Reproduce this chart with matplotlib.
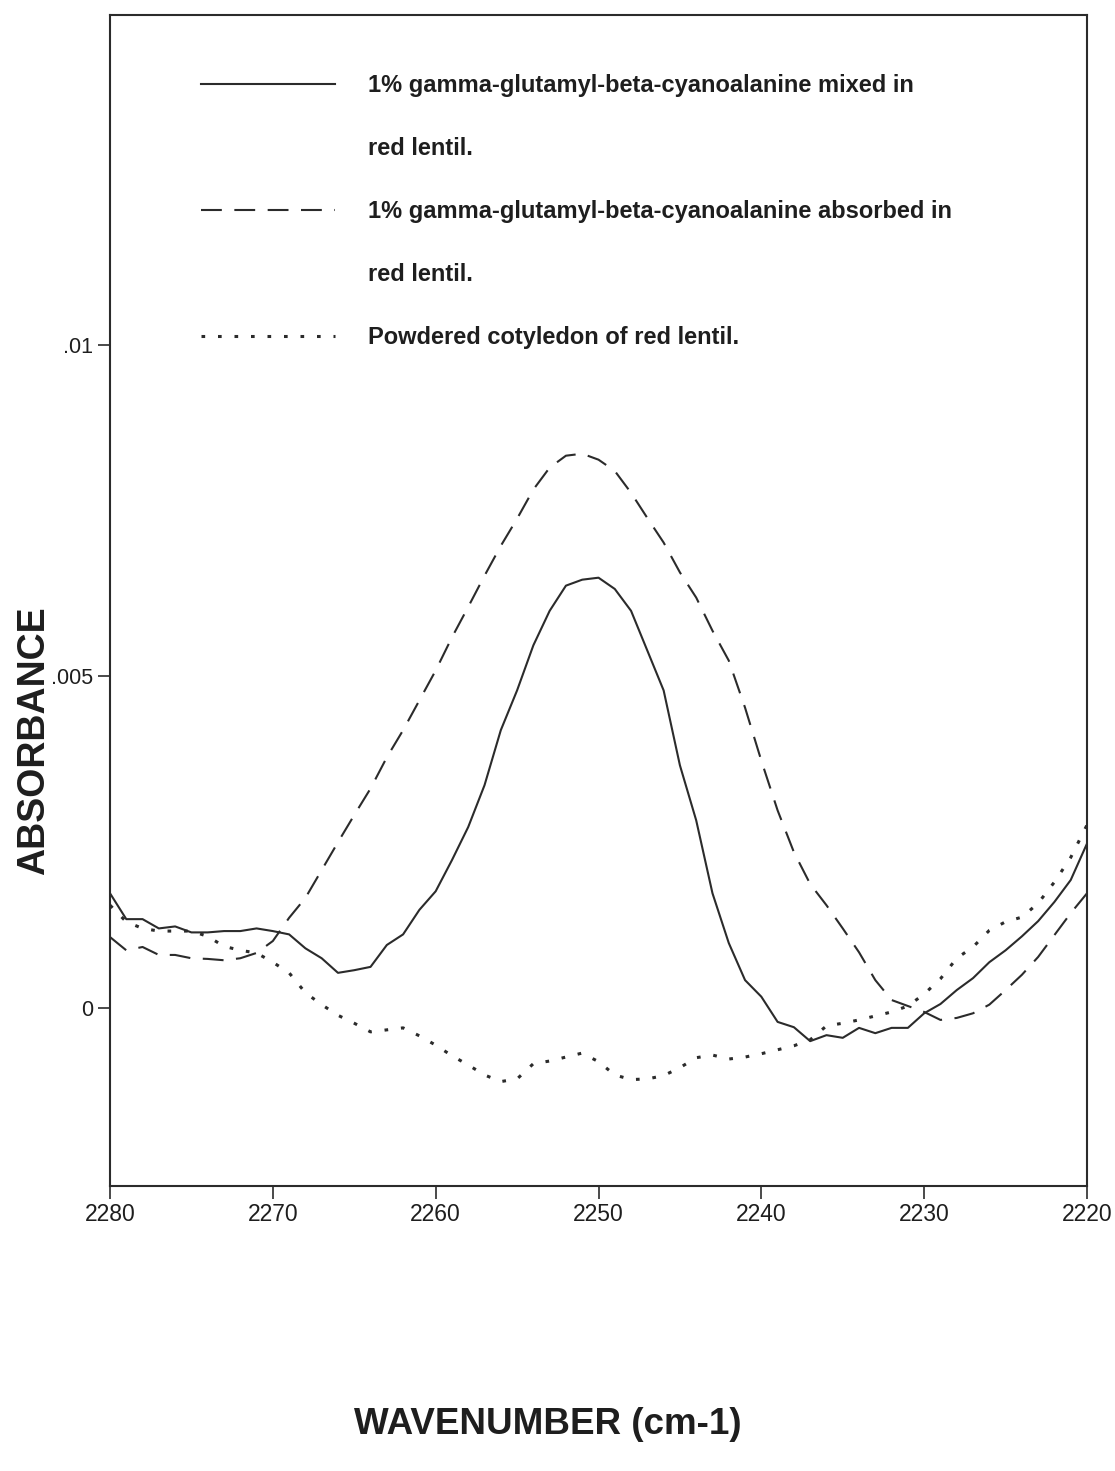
import numpy as np
import matplotlib
matplotlib.use("Agg")
import matplotlib.pyplot as plt
from matplotlib.lines import Line2D

plt.rcParams['font.family'] = ['Liberation Sans', 'DejaVu Sans']

# wavenumber grid (cm-1), 2280 down to 2220
wavenumber = np.arange(2280, 2219, -1)

# 1% gamma-glutamyl-beta-cyanoalanine mixed in red lentil
mixed = [0.00173, 0.00134, 0.00134, 0.00120, 0.00123, 0.00114, 0.00114, 0.00116,
         0.00116, 0.00120, 0.00116, 0.00111, 0.00090, 0.00075, 0.00053, 0.00057,
         0.00062, 0.00095, 0.00111, 0.00148, 0.00176, 0.00223, 0.00273, 0.00336,
         0.00419, 0.00479, 0.00547, 0.00599, 0.00637, 0.00646, 0.00649, 0.00632,
         0.00599, 0.00539, 0.00479, 0.00366, 0.00283, 0.00173, 0.00098, 0.00042,
         0.00017, -0.00021, -0.00029, -0.00050, -0.00041, -0.00045, -0.00030, -0.00038,
         -0.00030, -0.00030, -0.00008, 0.00006, 0.00027, 0.00045, 0.00069, 0.00087,
         0.00108, 0.00131, 0.00160, 0.00193, 0.00248]

# 1% gamma-glutamyl-beta-cyanoalanine absorbed in red lentil
absorbed = [0.00107, 0.00087, 0.00092, 0.00080, 0.00080, 0.00075, 0.00074, 0.00072,
            0.00075, 0.00083, 0.00101, 0.00136, 0.00166, 0.00208, 0.00250, 0.00291,
            0.00331, 0.00378, 0.00419, 0.00464, 0.00509, 0.00559, 0.00605, 0.00652,
            0.00697, 0.00738, 0.00782, 0.00815, 0.00833, 0.00836, 0.00827, 0.00810,
            0.00777, 0.00739, 0.00702, 0.00657, 0.00619, 0.00569, 0.00524, 0.00453,
            0.00373, 0.00298, 0.00235, 0.00187, 0.00155, 0.00120, 0.00084, 0.00042,
            0.00012, 0.00003, -0.00006, -0.00018, -0.00015, -0.00008, 0.00005, 0.00027,
            0.00050, 0.00077, 0.00110, 0.00143, 0.00173]

# powdered cotyledon of red lentil
powdered = [0.00155, 0.00130, 0.00120, 0.00116, 0.00116, 0.00116, 0.00108, 0.00093,
            0.00087, 0.00083, 0.00069, 0.00053, 0.00023, 0.00005, -0.00011, -0.00023,
            -0.00036, -0.00033, -0.00030, -0.00042, -0.00056, -0.00072, -0.00086, -0.00101,
            -0.00111, -0.00107, -0.00084, -0.00080, -0.00074, -0.00068, -0.00081, -0.00101,
            -0.00108, -0.00107, -0.00102, -0.00090, -0.00075, -0.00071, -0.00077, -0.00074,
            -0.00069, -0.00063, -0.00057, -0.00048, -0.00027, -0.00023, -0.00018, -0.00012,
            -0.00006, 0.00003, 0.00021, 0.00044, 0.00075, 0.00092, 0.00117, 0.00130,
            0.00137, 0.00158, 0.00190, 0.00227, 0.00276]

labels = ["1% gamma-glutamyl-beta-cyanoalanine mixed in",
          "red lentil.",
          "1% gamma-glutamyl-beta-cyanoalanine absorbed in",
          "red lentil.",
          "Powdered cotyledon of red lentil."]

ytick_vals = [0, 0.005, 0.01]
ytick_labels = ["0", ".005", ".01"]
xtick_vals = [2280, 2270, 2260, 2250, 2240, 2230, 2220]

ink = '#2b2b2b'

fig = plt.figure(figsize=(11.15, 14.71), dpi=100)
ax = fig.add_axes([110 / 1115, 1 - 1186 / 1471, 977 / 1115, 1171 / 1471])

l1, = ax.plot(wavenumber, mixed, color=ink, lw=1.5)
l2, = ax.plot(wavenumber, absorbed, color=ink, lw=1.5, dashes=(10, 6))
l3, = ax.plot(wavenumber, powdered, color=ink, lw=2.2, dashes=(1.2, 4.2))

ax.set_xlim(2280, 2220)
ax.set_ylim(-0.002685, 0.014977)
ax.set_xticks(xtick_vals)
ax.set_xticklabels([str(v) for v in xtick_vals], fontsize=16.5)
ax.set_yticks(ytick_vals)
ax.set_yticklabels(ytick_labels, fontsize=15.5)
ax.tick_params(direction='out', length=9, width=1.2, color=ink, pad=3, labelcolor='#1e1e1e')
for s in ax.spines.values():
    s.set_linewidth(1.5)
    s.set_color(ink)

blank = Line2D([], [], linestyle='none')
leg = ax.legend([l1, blank, l2, blank, l3], labels, loc='upper left',
                bbox_to_anchor=(0.093, 0.9497), frameon=False, borderpad=0,
                borderaxespad=0, handlelength=5.7, handletextpad=1.36,
                labelspacing=1.70, prop={'weight': 'bold', 'size': 17})
for t in leg.get_texts():
    t.set_color('#1e1e1e')

fig.text(34 / 1115, 1 - 741 / 1471, "ABSORBANCE", rotation=90, ha='center',
         va='center', fontsize=27, fontweight='bold', color='#1e1e1e')
fig.text(548 / 1115, 1 - 1425 / 1471, "WAVENUMBER (cm-1)", ha='center',
         va='center', fontsize=26.5, fontweight='bold', color='#1e1e1e')

fig.savefig("out.png", dpi=100, facecolor='white')
